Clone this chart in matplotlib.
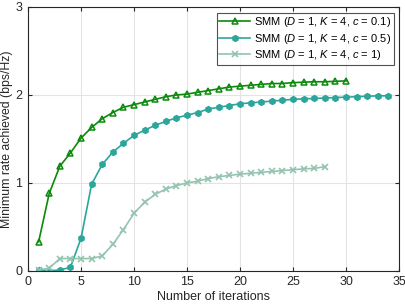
import numpy as np
import matplotlib
matplotlib.use('Agg')
import matplotlib.pyplot as plt

plt.rcParams['font.family'] = ['Liberation Sans', 'DejaVu Sans']
plt.rcParams['mathtext.fontset'] = 'custom'
plt.rcParams['mathtext.it'] = 'Liberation Sans:italic'
plt.rcParams['mathtext.rm'] = 'Liberation Sans'

# data
iter_c01 = np.arange(1, 31)
rate_c01 = [0.33, 0.88, 1.19, 1.34, 1.51, 1.63, 1.73, 1.80, 1.86, 1.89,
            1.92, 1.95, 1.98, 2.00, 2.01, 2.03, 2.05, 2.07, 2.09, 2.10,
            2.11, 2.12, 2.13, 2.13, 2.14, 2.145, 2.15, 2.15, 2.155, 2.16]

iter_c05 = np.arange(1, 35)
rate_c05 = [0.01, 0.0, 0.01, 0.04, 0.37, 0.985, 1.21, 1.35, 1.45, 1.54,
            1.60, 1.655, 1.70, 1.74, 1.77, 1.80, 1.84, 1.86, 1.88, 1.90,
            1.91, 1.92, 1.93, 1.94, 1.95, 1.955, 1.96, 1.965, 1.97, 1.975,
            1.98, 1.985, 1.99, 1.99]

iter_c1 = np.arange(1, 29)
rate_c1 = [0.01, 0.03, 0.14, 0.14, 0.14, 0.14, 0.17, 0.30, 0.47, 0.655,
           0.78, 0.87, 0.93, 0.97, 1.00, 1.02, 1.05, 1.07, 1.085, 1.10,
           1.11, 1.12, 1.13, 1.14, 1.15, 1.16, 1.165, 1.185]

labels = [r'SMM ($D$ = 1, $K$ = 4, $c$ = 0.1)',
          r'SMM ($D$ = 1, $K$ = 4, $c$ = 0.5)',
          r'SMM ($D$ = 1, $K$ = 4, $c$ = 1)']

fig = plt.figure(figsize=(4.06, 3.04), dpi=100)
ax = fig.add_axes([0.069, 0.109, 0.914, 0.868])

ax.plot(iter_c01, rate_c01, '-^', color='#0a8a0a', lw=1.2, ms=5,
        mfc='none', mew=1.1, label=labels[0])
ax.plot(iter_c05, rate_c05, '-h', color='#2ca59a', lw=1.2, ms=4.5,
        mew=0.8, label=labels[1])
ax.plot(iter_c1, rate_c1, '-x', color='#94c4b0', lw=1.2, ms=4,
        mew=1.2, label=labels[2])

ax.set_xlim(0, 35)
ax.set_ylim(0, 3)
ax.set_xticks(np.arange(0, 36, 5))
ax.set_yticks([0, 1, 2, 3])
ax.grid(True, color='#e3e3e3', lw=0.8)
ax.set_axisbelow(True)
ax.tick_params(direction='in', length=3, top=True, right=True,
               labelsize=9, colors='#262626', pad=4)
for spine in ax.spines.values():
    spine.set_color('#262626')
    spine.set_linewidth(0.8)

ax.set_xlabel('Number of iterations', fontsize=9, color='#262626', labelpad=2)
ax.set_ylabel('Minimum rate achieved (bps/Hz)', fontsize=8.8, color='#262626', labelpad=2)

leg = ax.legend(loc='upper right', fontsize=8, frameon=True, fancybox=False,
                edgecolor='#262626', borderaxespad=0.5, handlelength=2.8,
                handletextpad=0.3, borderpad=0.25, labelspacing=0.2)
leg.get_frame().set_linewidth(0.8)

plt.savefig('out.png', dpi=100)
